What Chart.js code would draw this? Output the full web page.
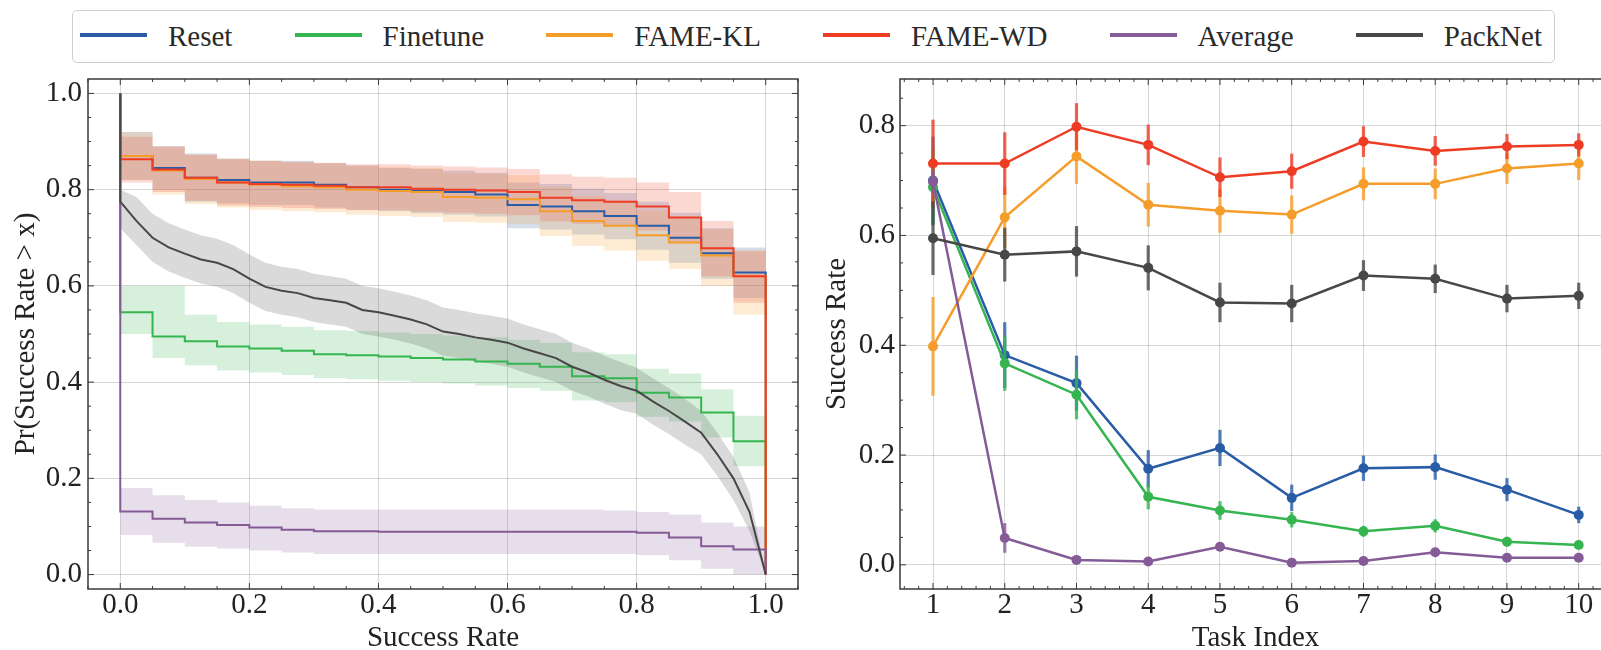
<!DOCTYPE html>
<html>
<head>
<meta charset="utf-8">
<script src="https://cdn.jsdelivr.net/npm/chart.js@4.4.1/dist/chart.umd.min.js"></script>
<style>
  html, body { margin:0; padding:0; background:#fff; width:1601px; height:650px; overflow:hidden; }
  #wrap { position:relative; width:1601px; height:650px; overflow:hidden; }
  #left { position:absolute; left:0; top:0; }
  #right { position:absolute; left:800px; top:0; }
  #legend { position:absolute; left:72px; top:10px; width:1483px; height:53px; box-sizing:border-box;
    border:1.5px solid #cfcfcf; border-radius:5px; background:#fff; z-index:2;
    display:flex; align-items:center; justify-content:space-between; padding:0 12px 0 7px;
    font-family:'Liberation Serif','Times New Roman',serif; font-size:29px; color:#2a2a2a; }
  #legend .item { display:flex; align-items:center; white-space:nowrap; }
  #legend .sw { display:inline-block; width:67px; height:4px; margin-right:21px; position:relative; top:-2px; }
</style>
</head>
<body>
<div id="wrap">
  <canvas id="left" width="800" height="650"></canvas>
  <canvas id="right" width="830" height="650"></canvas>
  <div id="legend"></div>
</div>
<script>
// ---------------- names & colours ----------------
const seriesNames  = ['Reset', 'Finetune', 'FAME-KL', 'FAME-WD', 'Average', 'PackNet'];
const seriesColors = ['#2a5ca6', '#34b54f', '#f59d2a', '#ee3b24', '#845b97', '#474747'];
const bandColors   = ['rgba(42,92,166,0.2)', 'rgba(52,181,79,0.2)', 'rgba(245,157,42,0.2)',
                      'rgba(238,59,36,0.2)', 'rgba(132,91,151,0.2)', 'rgba(71,71,71,0.2)'];

// ---------------- left panel: Pr(Success Rate > x) ----------------
const successGrid = [0,0.05,0.1,0.15,0.2,0.25,0.3,0.35,0.4,0.45,0.5,0.55,0.6,0.65,0.7,0.75,0.8,0.85,0.9,0.95];

const resetSurv   = [0.87,0.845,0.825,0.82,0.815,0.815,0.81,0.805,0.80,0.797,0.795,0.79,0.768,0.765,0.755,0.745,0.725,0.70,0.668,0.628];
const resetHi     = [0.92,0.89,0.875,0.865,0.86,0.86,0.855,0.85,0.845,0.843,0.84,0.835,0.815,0.812,0.802,0.793,0.775,0.752,0.72,0.68];
const resetLo     = [0.82,0.80,0.775,0.772,0.768,0.768,0.763,0.758,0.755,0.751,0.748,0.744,0.72,0.717,0.707,0.697,0.675,0.648,0.615,0.575];

const finetuneSurv= [0.545,0.495,0.485,0.474,0.47,0.465,0.458,0.456,0.453,0.45,0.447,0.443,0.438,0.432,0.412,0.408,0.378,0.368,0.337,0.277];
const finetuneHi  = [0.60,0.60,0.54,0.525,0.52,0.515,0.508,0.506,0.503,0.50,0.497,0.493,0.488,0.482,0.462,0.458,0.428,0.418,0.385,0.33];
const finetuneLo  = [0.50,0.45,0.435,0.424,0.42,0.415,0.408,0.406,0.403,0.40,0.397,0.393,0.388,0.382,0.362,0.358,0.328,0.318,0.285,0.225];

const fameKLSurv  = [0.87,0.84,0.822,0.815,0.81,0.807,0.805,0.80,0.797,0.795,0.785,0.783,0.78,0.755,0.735,0.725,0.705,0.69,0.663,0.62];
const fameKLHi    = [0.92,0.888,0.872,0.865,0.86,0.857,0.855,0.85,0.847,0.845,0.835,0.833,0.83,0.805,0.787,0.777,0.757,0.743,0.717,0.675];
const fameKLLo    = [0.82,0.79,0.77,0.763,0.758,0.755,0.753,0.748,0.745,0.743,0.733,0.731,0.728,0.703,0.683,0.673,0.652,0.635,0.60,0.54];

const fameWDSurv  = [0.863,0.842,0.825,0.815,0.812,0.81,0.808,0.805,0.805,0.802,0.80,0.798,0.795,0.783,0.778,0.775,0.765,0.742,0.678,0.62];
const fameWDHi    = [0.91,0.89,0.873,0.863,0.86,0.858,0.856,0.853,0.853,0.85,0.848,0.846,0.843,0.832,0.827,0.825,0.815,0.795,0.735,0.672];
const fameWDLo    = [0.815,0.795,0.777,0.767,0.764,0.762,0.76,0.757,0.757,0.754,0.752,0.75,0.747,0.734,0.729,0.725,0.715,0.69,0.62,0.565];

const averageSurv = [0.131,0.116,0.108,0.103,0.098,0.093,0.09,0.09,0.089,0.089,0.089,0.089,0.089,0.089,0.089,0.089,0.087,0.077,0.059,0.052];
const averageHi   = [0.18,0.165,0.155,0.15,0.143,0.138,0.135,0.135,0.135,0.135,0.135,0.135,0.135,0.135,0.135,0.133,0.13,0.125,0.108,0.10];
const averageLo   = [0.082,0.066,0.058,0.054,0.05,0.046,0.043,0.043,0.043,0.043,0.043,0.043,0.043,0.043,0.043,0.043,0.04,0.03,0.012,0.0];

const packnetX    = [0,0.025,0.05,0.075,0.1,0.125,0.15,0.175,0.2,0.225,0.25,0.275,0.3,0.325,0.35,0.375,0.4,0.425,0.45,0.475,0.5,0.525,0.55,0.575,0.6,0.625,0.65,0.675,0.7,0.725,0.75,0.775,0.8,0.825,0.85,0.875,0.9,0.925,0.95,0.975,1.0];
const packnetSurv = [0.775,0.735,0.70,0.68,0.667,0.655,0.648,0.635,0.615,0.598,0.59,0.585,0.575,0.57,0.565,0.55,0.545,0.538,0.53,0.52,0.505,0.50,0.493,0.488,0.482,0.47,0.46,0.45,0.432,0.42,0.405,0.392,0.382,0.36,0.34,0.318,0.295,0.25,0.20,0.13,0.0];
const packnetHi   = [0.80,0.785,0.75,0.73,0.717,0.705,0.698,0.685,0.665,0.648,0.64,0.635,0.625,0.62,0.615,0.60,0.595,0.588,0.58,0.57,0.555,0.55,0.543,0.538,0.532,0.52,0.51,0.50,0.482,0.47,0.455,0.442,0.43,0.408,0.388,0.365,0.34,0.295,0.245,0.17,0.0];
const packnetLo   = [0.72,0.685,0.65,0.63,0.617,0.605,0.598,0.585,0.565,0.548,0.54,0.535,0.525,0.52,0.515,0.50,0.495,0.488,0.48,0.47,0.455,0.45,0.443,0.438,0.432,0.42,0.41,0.40,0.382,0.37,0.355,0.342,0.334,0.312,0.292,0.27,0.25,0.205,0.155,0.09,0.0];

const leftXTicks = [0.0,0.2,0.4,0.6,0.8,1.0];
const leftYTicks = [0.0,0.2,0.4,0.6,0.8,1.0];

// ---------------- right panel: success rate per task ----------------
const taskIndex = [1,2,3,4,5,6,7,8,9,10];
const resetMean    = [0.700,0.382,0.331,0.175,0.213,0.122,0.176,0.178,0.137,0.091];
const resetErr     = [0.080,0.060,0.050,0.034,0.033,0.024,0.023,0.023,0.021,0.015];
const finetuneMean = [0.688,0.367,0.310,0.124,0.099,0.082,0.061,0.071,0.042,0.036];
const finetuneErr  = [0.070,0.050,0.045,0.023,0.017,0.014,0.010,0.012,0.009,0.006];
const fameKLMean   = [0.398,0.633,0.744,0.656,0.645,0.638,0.694,0.694,0.722,0.731];
const fameKLErr    = [0.090,0.055,0.050,0.040,0.040,0.035,0.030,0.028,0.028,0.030];
const fameWDMean   = [0.731,0.731,0.798,0.765,0.706,0.717,0.771,0.754,0.762,0.765];
const fameWDErr    = [0.080,0.057,0.043,0.037,0.036,0.032,0.028,0.027,0.023,0.021];
const averageMean  = [0.698,0.049,0.009,0.006,0.033,0.004,0.007,0.023,0.013,0.013];
const averageErr   = [0.020,0.027,0.005,0.004,0.008,0.003,0.004,0.006,0.004,0.004];
const packnetMean  = [0.595,0.565,0.571,0.541,0.478,0.476,0.527,0.521,0.485,0.490];
const packnetErr   = [0.067,0.049,0.046,0.041,0.036,0.034,0.028,0.026,0.025,0.024];

const rightXTicks = [1,2,3,4,5,6,7,8,9,10];
const rightYTicks = [0.0,0.2,0.4,0.6,0.8];

// ---------------- legend (HTML) ----------------
const legendEl = document.getElementById('legend');
seriesNames.forEach((n, i) => {
  const it = document.createElement('div'); it.className = 'item';
  const sw = document.createElement('span'); sw.className = 'sw'; sw.style.background = seriesColors[i];
  const tx = document.createElement('span'); tx.textContent = n;
  it.appendChild(sw); it.appendChild(tx); legendEl.appendChild(it);
});

// ---------------- common ----------------
const FONT = "'Liberation Serif','Times New Roman',serif";
Chart.defaults.font.family = FONT;
Chart.defaults.color = '#222';

function minorList(majors, step) {
  const out = [];
  for (let i = 0; i < majors.length - 1; i++) {
    for (let v = majors[i] + step; v < majors[i + 1] - 1e-9; v += step) out.push(v);
  }
  out.push(majors[0] - step * 1, majors[0] - step * 2, majors[majors.length-1] + step, majors[majors.length-1] + step*2);
  return out;
}

const framePlugin = {
  id: 'frame',
  afterDatasetsDraw(chart, args, opts) {
    const {ctx, chartArea: a, scales: {x, y}} = chart;
    ctx.save();
    ctx.strokeStyle = '#3a3a3a';
    ctx.lineWidth = 1;
    const seg = (x1, y1, x2, y2) => { ctx.beginPath(); ctx.moveTo(x1, y1); ctx.lineTo(x2, y2); ctx.stroke(); };
    const drawX = (vals, len) => vals.forEach(v => {
      const p = x.getPixelForValue(v);
      if (p < a.left - 0.5 || p > a.right + 0.5) return;
      seg(p, a.bottom, p, a.bottom - len); seg(p, a.top, p, a.top + len);
    });
    const drawY = (vals, len) => vals.forEach(v => {
      const p = y.getPixelForValue(v);
      if (p < a.top - 0.5 || p > a.bottom + 0.5) return;
      seg(a.left, p, a.left + len, p); seg(a.right, p, a.right - len, p);
    });
    drawX(opts.xMajor, 6); drawX(opts.xMinor, 3);
    drawY(opts.yMajor, 6); drawY(opts.yMinor, 3);
    ctx.lineWidth = 1.5;
    ctx.strokeRect(a.left, a.top, a.right - a.left, a.bottom - a.top);
    ctx.restore();
  }
};

const errorBarPlugin = {
  id: 'errbars',
  beforeDatasetDraw(chart, args) {
    const ds = chart.data.datasets[args.index];
    if (!ds.errors) return;
    const {ctx, scales: {x, y}} = chart;
    ctx.save();
    ctx.strokeStyle = ds.borderColor;
    ctx.globalAlpha = 0.8;
    ctx.lineWidth = 3.2;
    ds.data.forEach((pt, i) => {
      const px = x.getPixelForValue(pt.x);
      ctx.beginPath();
      ctx.moveTo(px, y.getPixelForValue(pt.y - ds.errors[i]));
      ctx.lineTo(px, y.getPixelForValue(pt.y + ds.errors[i]));
      ctx.stroke();
    });
    ctx.restore();
  }
};

function axisCommon(ticksArr, fmt, pad) {
  return {
    type: 'linear',
    grid: { color: 'rgba(0,0,0,0.16)', lineWidth: 1, drawTicks: false },
    border: { display: false },
    afterBuildTicks: s => { s.ticks = ticksArr.map(v => ({ value: v })); },
    ticks: { autoSkip: false, padding: pad, callback: fmt, font: { size: 29, lineHeight: 1 }, color: '#222' }
  };
}

// ---------------- left chart ----------------
const survSeries = [resetSurv, finetuneSurv, fameKLSurv, fameWDSurv, averageSurv];
const survHi = [resetHi, finetuneHi, fameKLHi, fameWDHi, averageHi];
const survLo = [resetLo, finetuneLo, fameKLLo, fameWDLo, averageLo];

const leftDatasets = [];
function addBand(xs, lo, hi, color, order, stepped, endX) {
  const loPts = xs.map((x, i) => ({ x, y: lo[i] }));
  const hiPts = xs.map((x, i) => ({ x, y: hi[i] }));
  if (endX !== undefined) { loPts.push({ x: endX, y: lo[lo.length - 1] }); hiPts.push({ x: endX, y: hi[hi.length - 1] }); }
  leftDatasets.push({ data: loPts, borderColor: 'transparent', borderWidth: 0, pointRadius: 0, fill: false, stepped, order });
  leftDatasets.push({ data: hiPts, borderColor: 'transparent', borderWidth: 0, pointRadius: 0, fill: '-1', backgroundColor: color, stepped, order });
}
for (let i = 0; i < 5; i++) addBand(successGrid, survLo[i], survHi[i], bandColors[i], 200 - i, 'before', 1.0);
addBand(packnetX, packnetLo, packnetHi, bandColors[5], 195, false);

for (let i = 0; i < 5; i++) {
  const ys = survSeries[i];
  const pts = [{ x: 0, y: 1.0 }].concat(successGrid.map((x, k) => ({ x, y: ys[k] })));
  pts.push({ x: 1.0, y: ys[ys.length - 1] });
  pts.push({ x: 1.0, y: 0.0 });
  leftDatasets.push({ data: pts, borderColor: seriesColors[i], borderWidth: 2, pointRadius: 0, fill: false, stepped: 'before', order: 100 - i });
}
leftDatasets.push({
  data: [{ x: 0, y: 1.0 }].concat(packnetX.map((x, k) => ({ x, y: packnetSurv[k] }))),
  borderColor: seriesColors[5], borderWidth: 2, pointRadius: 0, fill: false, stepped: false, order: 94
});

const leftX = axisCommon(leftXTicks, v => v.toFixed(1), 2);
leftX.min = -0.05; leftX.max = 1.05;
leftX.afterFit = s => { s.height = 61; };
leftX.title = { display: true, text: 'Success Rate', font: { size: 29, lineHeight: 0.8 }, padding: 0, color: '#222' };
const leftY = axisCommon(leftYTicks, v => v.toFixed(1), 6);
leftY.min = -0.03; leftY.max = 1.03;
leftY.afterFit = s => { s.width = 88; };
leftY.title = { display: true, text: 'Pr(Success Rate > x)', font: { size: 29, lineHeight: 1 }, padding: { top: 12, bottom: 0 }, color: '#222' };

new Chart(document.getElementById('left'), {
  type: 'line',
  data: { datasets: leftDatasets },
  options: {
    responsive: false, animation: false, devicePixelRatio: 1,
    layout: { padding: { top: 79, right: 2, left: 0, bottom: 0 } },
    scales: { x: leftX, y: leftY },
    plugins: {
      legend: { display: false }, tooltip: { enabled: false },
      filler: { propagate: false },
      frame: { xMajor: leftXTicks, xMinor: minorList(leftXTicks, 0.05), yMajor: leftYTicks, yMinor: minorList(leftYTicks, 0.05) }
    }
  },
  plugins: [framePlugin]
});

// ---------------- right chart ----------------
const taskMeans = [resetMean, finetuneMean, fameKLMean, fameWDMean, averageMean, packnetMean];
const taskErrs  = [resetErr, finetuneErr, fameKLErr, fameWDErr, averageErr, packnetErr];
const rightDatasets = taskMeans.map((m, i) => ({
  data: taskIndex.map((t, k) => ({ x: t, y: m[k] })),
  errors: taskErrs[i],
  borderColor: seriesColors[i], backgroundColor: seriesColors[i],
  pointBackgroundColor: seriesColors[i], pointBorderWidth: 0, pointRadius: 5,
  borderWidth: 2.5, fill: false, order: 100 - i
}));

const rightX = axisCommon(rightXTicks, v => String(v), 2);
rightX.min = 0.54; rightX.max = 10.45;
rightX.afterFit = s => { s.height = 61; };
rightX.title = { display: true, text: 'Task Index', font: { size: 29, lineHeight: 0.8 }, padding: 0, color: '#222' };
const rightY = axisCommon(rightYTicks, v => v.toFixed(1), 5);
rightY.min = -0.044; rightY.max = 0.885;
rightY.afterFit = s => { s.width = 100; };
rightY.title = { display: true, text: 'Success Rate', font: { size: 29, lineHeight: 1 }, padding: { top: 23, bottom: 0 }, color: '#222' };

new Chart(document.getElementById('right'), {
  type: 'line',
  data: { datasets: rightDatasets },
  options: {
    responsive: false, animation: false, devicePixelRatio: 1,
    layout: { padding: { top: 79, right: 19, left: 0, bottom: 0 } },
    scales: { x: rightX, y: rightY },
    plugins: {
      legend: { display: false }, tooltip: { enabled: false },
      frame: { xMajor: rightXTicks, xMinor: minorList(rightXTicks, 0.2), yMajor: rightYTicks, yMinor: minorList(rightYTicks, 0.05) }
    }
  },
  plugins: [framePlugin, errorBarPlugin]
});
</script>
</body>
</html>
